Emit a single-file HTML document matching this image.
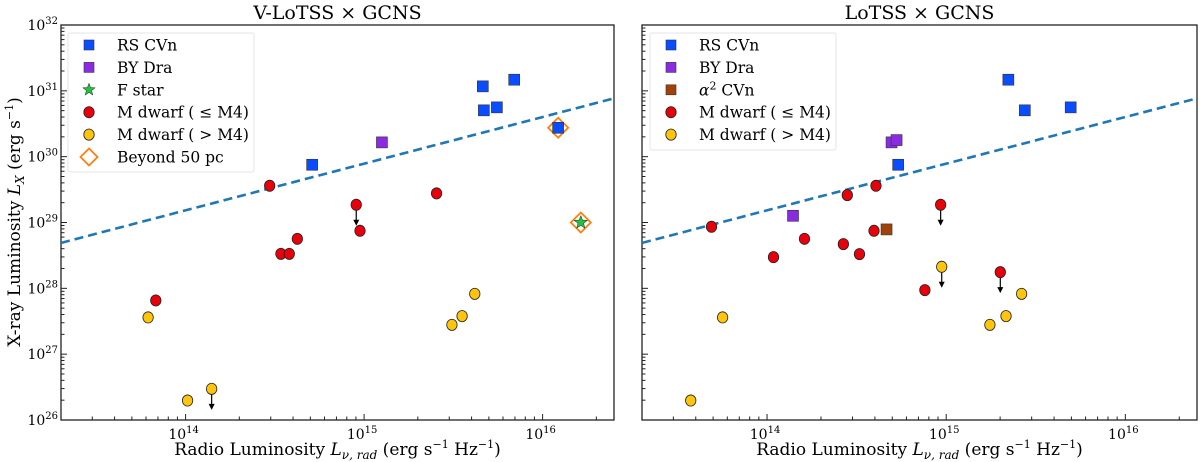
<!DOCTYPE html>
<html><head><meta charset="utf-8"><style>
html,body{margin:0;padding:0;background:#fff;}
svg{display:block;font-family:"DejaVu Serif","Liberation Serif",serif;}
</style></head><body>
<svg id="chart" width="1200" height="462" viewBox="0 0 1200 462"></svg>
<script>
// ---- data (log10 values) ----
const xTickExps = [14, 15, 16];
const yTickExps = [26, 27, 28, 29, 30, 31, 32];
const fitLine = [[13.302, 28.69], [16.40, 30.886]];

// Left panel: V-LoTSS x GCNS
const L_rscvn_x = [14.709, 15.665, 15.671, 15.744, 15.841, 16.087];
const L_rscvn_y = [29.877, 31.068, 30.704, 30.749, 31.169, 30.439];
const L_bydra_x = [15.100];
const L_bydra_y = [30.217];
const L_fstar_x = [16.214];
const L_fstar_y = [29.0];
const L_beyond_x = [16.087, 16.214];
const L_beyond_y = [30.439, 29.0];
const L_mearly_x = [14.471, 14.956, 14.977, 14.626, 14.534, 14.581, 13.833, 15.406];
const L_mearly_y = [29.558, 29.269, 28.874, 28.752, 28.524, 28.524, 27.816, 29.442];
const L_mearly_ul = [0, 1, 0, 0, 0, 0, 0, 0];
const L_mlate_x = [13.790, 14.011, 14.146, 15.492, 15.549, 15.620];
const L_mlate_y = [27.558, 26.296, 26.473, 27.445, 27.578, 27.916];
const L_mlate_ul = [0, 0, 1, 0, 0, 0];

// Right panel: LoTSS x GCNS
const R_rscvn_x = [15.347, 15.439, 15.695, 14.732];
const R_rscvn_y = [31.169, 30.704, 30.749, 29.877];
const R_bydra_x = [14.145, 14.695, 14.723];
const R_bydra_y = [29.102, 30.217, 30.252];
const R_acvn_x = [14.667];
const R_acvn_y = [28.895];
const R_mearly_x = [13.690, 14.036, 14.209, 14.426, 14.448, 14.516, 14.597, 14.608, 14.881, 14.969, 15.302];
const R_mearly_y = [28.935, 28.474, 28.752, 28.672, 29.416, 28.520, 28.874, 29.558, 27.973, 29.269, 28.246];
const R_mearly_ul = [0, 0, 0, 0, 0, 0, 0, 0, 0, 1, 1];
const R_mlate_x = [13.574, 13.752, 14.975, 15.244, 15.334, 15.421];
const R_mlate_y = [26.296, 27.558, 28.327, 27.445, 27.578, 27.916];
const R_mlate_ul = [0, 0, 1, 0, 0, 0];

const NS = "http://www.w3.org/2000/svg";
const svg = document.getElementById("chart");
const XMIN = 13.302, XMAX = 16.40, YMIN = 26, YMAX = 32;
const COL = {blue:"#0a4cff", purple:"#8a2be2", green:"#22c33a", red:"#e8000b", yellow:"#ffc40c", orange:"#ff7f0e", brown:"#a0420a", line:"#1f77b4"};

function el(tag, attrs, parent) {
  const e = document.createElementNS(NS, tag);
  for (const k in attrs) e.setAttribute(k, attrs[k]);
  (parent || svg).appendChild(e);
  return e;
}

function makePanel(x0, x1, y0, y1, title, showYLabels) {
  const sx = v => x0 + (v - XMIN) / (XMAX - XMIN) * (x1 - x0);
  const sy = v => y1 - (v - YMIN) / (YMAX - YMIN) * (y1 - y0);
  const g = el("g", {});
  
  
  // title
  const t = el("text", {x:(x0+x1)/2, y:19, "text-anchor":"middle", "font-size":"19"}, g);
  t.textContent = title;
  
  
  // frame
  const fr = el("rect", {x:x0, y:y0, width:x1-x0, height:y1-y0, fill:"none", stroke:"#222", "stroke-width":"1.3"}, g);
  
  
  // x ticks
  for (let e = 13; e <= 16; e++) {
    for (let m = 1; m <= 9; m++) {
      const lv = e + Math.log10(m);
      if (lv < XMIN || lv > XMAX) continue;
      const px = sx(lv), len = m === 1 ? 6 : 3.5;
      el("line", {x1:px, x2:px, y1:y1, y2:y1-len, stroke:"#222", "stroke-width":"1"}, g);
    }
  }
  xTickExps.forEach(e => {
    const lt = el("text", {x:sx(e)-2, y:y1+19, "text-anchor":"middle", "font-size":"14"}, g);
    
    
    lt.innerHTML = '10<tspan dy="-6" font-size="10">' + e + '</tspan>';
  });
  // y ticks
  for (let e = 26; e <= 32; e++) {
    for (let m = 1; m <= 9; m++) {
      const lv = e + Math.log10(m);
      if (lv > YMAX) continue;
      const py = sy(lv), len = m === 1 ? 6 : 3.5;
      el("line", {x1:x0, x2:x0+len, y1:py, y2:py, stroke:"#222", "stroke-width":"1"}, g);
    }
  }
  if (showYLabels) {
    yTickExps.forEach(e => {
      const lt = el("text", {x:x0-3, y:sy(e)+5, "text-anchor":"end", "font-size":"14"}, g);
      
      
      lt.innerHTML = '10<tspan dy="-6" font-size="10">' + e + '</tspan>';
    });
  }
  // x-axis title
  const xt = el("text", {x:(x0+x1)/2, y:455, "text-anchor":"middle", "font-size":"17"}, g);
  
  
  xt.innerHTML = 'Radio Luminosity <tspan font-style="italic">L</tspan><tspan font-style="italic" font-size="12" dy="4">ν, rad</tspan><tspan dy="-4"> (erg s</tspan><tspan dy="-7" font-size="11">−1</tspan><tspan dy="7"> Hz</tspan><tspan dy="-7" font-size="11">−1</tspan><tspan dy="7">)</tspan>';
  // fit line clipped
  const cid = "clip" + Math.round(x0);
  const cp = el("clipPath", {id:cid}, g);
  el("rect", {x:x0, y:y0, width:x1-x0, height:y1-y0}, cp);
  const fl = el("line", {x1:sx(fitLine[0][0]), y1:sy(fitLine[0][1]), x2:sx(fitLine[1][0]), y2:sy(fitLine[1][1]),
    stroke:COL.line, "stroke-width":"2.6", "stroke-dasharray":"9,5", "clip-path":"url(#"+cid+")"}, g);
  
  
  return {g, sx, sy};
}

function square(g, px, py, fill, s) {
  s = s || 11;
  return el("rect", {x:px-s/2, y:py-s/2, width:s, height:s, fill:fill, stroke:"#333", "stroke-width":"0.6"}, g);
}
function circle(g, px, py, fill) {
  return el("ellipse", {cx:px, cy:py, rx:5.2, ry:5.6, fill:fill, stroke:"#222", "stroke-width":"0.8"}, g);
}
function star(g, px, py, fill, r) {
  r = r || 7;
  let pts = [];
  for (let i = 0; i < 10; i++) {
    const a = -Math.PI/2 + i*Math.PI/5, rr = i%2 ? r*0.42 : r;
    pts.push((px + rr*Math.cos(a)).toFixed(1) + "," + (py + rr*Math.sin(a)).toFixed(1));
  }
  return el("polygon", {points:pts.join(" "), fill:fill, stroke:"#222", "stroke-width":"0.5"}, g);
}
function diamond(g, px, py, s) {
  s = s || 10;
  return el("polygon", {points:`${px},${py-s} ${px+s},${py} ${px},${py+s} ${px-s},${py}`, fill:"none", stroke:COL.orange, "stroke-width":"1.8"}, g);
}
function arrow(g, px, py) {
  const a = el("g", {}, g);
  el("line", {x1:px, y1:py, x2:px, y2:py+17, stroke:"#000", "stroke-width":"1.2"}, a);
  el("polygon", {points:`${px-3},${py+15} ${px+3},${py+15} ${px},${py+21}`, fill:"#000"}, a);
  return a;
}

function drawSeries(p, xs, ys, kind, fill, name, ul) {
  xs.forEach((xv, i) => {
    const px = p.sx(xv), py = p.sy(ys[i]);
    if (ul && ul[i]) {
      const a = arrow(p.g, px, py);
      
      
    }
    let m;
    if (kind === "sq") m = square(p.g, px, py, fill);
    else if (kind === "ci") m = circle(p.g, px, py, fill);
    else if (kind === "st") m = star(p.g, px, py, fill);
    else m = diamond(p.g, px, py);
    
    
  });
}

function legend(x, y, w, h, entries, mx, tx) {
  const lg = el("g", {});
  
  
  el("rect", {x:x, y:y, width:w, height:h, fill:"#fff", stroke:"#e4e4e4", "stroke-width":"1", rx:"2"}, lg);
  entries.forEach((en, i) => {
    const cy = y + 12 + i*22.4;
    const eg = el("g", {}, lg);
    
    
    if (en.k === "sq") square(eg, mx, cy, en.c, 10);
    else if (en.k === "ci") circle(eg, mx, cy, en.c);
    else if (en.k === "st") star(eg, mx, cy, en.c, 6.5);
    else diamond(eg, mx, cy, 8.5);
    const t = el("text", {x:tx, y:cy+5.5, "font-size":"15.5"}, eg);
    t.innerHTML = en.t;
  });
}

// Left panel
const P1 = makePanel(61, 614, 25, 420, "V-LoTSS × GCNS", true);
const yt = el("text", {transform:"translate(20,222) rotate(-90)", "text-anchor":"middle", "font-size":"17"});


yt.innerHTML = 'X-ray Luminosity <tspan font-style="italic">L</tspan><tspan font-style="italic" font-size="12" dy="4">X</tspan><tspan dy="-4"> (erg s</tspan><tspan dy="-7" font-size="11">−1</tspan><tspan dy="7">)</tspan>';
drawSeries(P1, L_mearly_x, L_mearly_y, "ci", COL.red, "m-dwarf-early-point", L_mearly_ul);
drawSeries(P1, L_mlate_x, L_mlate_y, "ci", COL.yellow, "m-dwarf-late-point", L_mlate_ul);
drawSeries(P1, L_beyond_x, L_beyond_y, "di", null, "beyond-50pc-marker");
drawSeries(P1, L_rscvn_x, L_rscvn_y, "sq", COL.blue, "rs-cvn-point");
drawSeries(P1, L_bydra_x, L_bydra_y, "sq", COL.purple, "by-dra-point");
drawSeries(P1, L_fstar_x, L_fstar_y, "st", COL.green, "f-star-point");
legend(68, 33, 186, 139, [
  {k:"sq", c:COL.blue, t:"RS CVn"},
  {k:"sq", c:COL.purple, t:"BY Dra"},
  {k:"st", c:COL.green, t:"F star"},
  {k:"ci", c:COL.red, t:"M dwarf ( ≤  M4)"},
  {k:"ci", c:COL.yellow, t:"M dwarf ( &gt;  M4)"},
  {k:"di", t:"Beyond 50 pc"}
], 89, 117);

// Right panel
const P2 = makePanel(642, 1197, 25, 420, "LoTSS × GCNS", false);
drawSeries(P2, R_mearly_x, R_mearly_y, "ci", COL.red, "m-dwarf-early-point", R_mearly_ul);
drawSeries(P2, R_mlate_x, R_mlate_y, "ci", COL.yellow, "m-dwarf-late-point", R_mlate_ul);
drawSeries(P2, R_rscvn_x, R_rscvn_y, "sq", COL.blue, "rs-cvn-point");
drawSeries(P2, R_bydra_x, R_bydra_y, "sq", COL.purple, "by-dra-point");
drawSeries(P2, R_acvn_x, R_acvn_y, "sq", COL.brown, "alpha2-cvn-point");
legend(650, 33, 186, 117, [
  {k:"sq", c:COL.blue, t:"RS CVn"},
  {k:"sq", c:COL.purple, t:"BY Dra"},
  {k:"sq", c:COL.brown, t:'<tspan font-style="italic">α</tspan><tspan dy="-6" font-size="11">2</tspan><tspan dy="6"> CVn</tspan>'},
  {k:"ci", c:COL.red, t:"M dwarf ( ≤  M4)"},
  {k:"ci", c:COL.yellow, t:"M dwarf ( &gt;  M4)"}
], 671, 699);
</script>
</body></html>
